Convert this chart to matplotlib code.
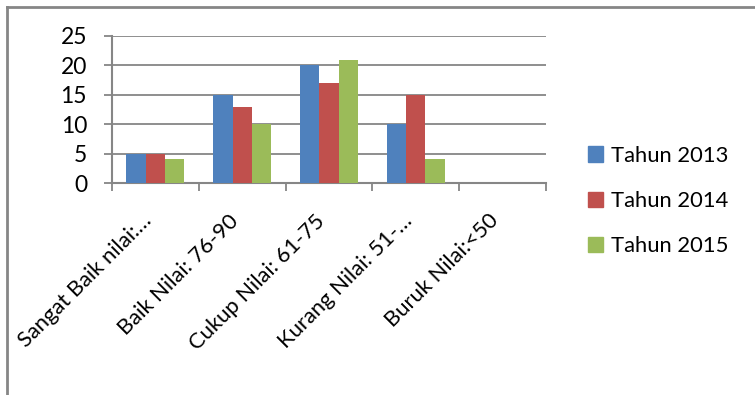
import matplotlib
matplotlib.use("Agg")
import matplotlib.pyplot as plt
from matplotlib.lines import Line2D
from matplotlib.patches import Rectangle
import numpy as np

plt.rcParams['font.family'] = ['Lato', 'DejaVu Sans']

categories = ["Sangat Baik nilai:…", "Baik Nilai: 76-90", "Cukup Nilai: 61-75",
              "Kurang Nilai: 51-…", "Buruk Nilai:<50"]
series_names = ["Tahun 2013", "Tahun 2014", "Tahun 2015"]
tahun_2013 = [5, 15, 20, 10, 0]
tahun_2014 = [5, 13, 17, 15, 0]
tahun_2015 = [4, 10, 21, 4, 0]
colors = ["#4F81BD", "#C0504D", "#9BBB59"]
y_ticks = [0, 5, 10, 15, 20, 25]

FS = 16.5
fig = plt.figure(figsize=(7.55, 3.95), dpi=100)
ax = fig.add_axes([112 / 755, 1 - 183 / 395, (546 - 112) / 755, (183 - 36) / 395])

x = np.arange(len(categories))
bw = 1 / 4.5
for i, (vals, c) in enumerate(zip([tahun_2013, tahun_2014, tahun_2015], colors)):
    ax.bar(x + (i - 1) * bw, vals, width=bw, color=c, edgecolor='none', zorder=3)

ax.set_xlim(-0.5, len(categories) - 0.5)
ax.set_ylim(0, 25)
ax.set_yticks(y_ticks)
ax.set_yticklabels([str(v) for v in y_ticks], fontsize=FS)
ax.yaxis.grid(True, color='#868686', linewidth=1.3, zorder=0)
ax.set_axisbelow(True)
for s in ['top', 'right']:
    ax.spines[s].set_visible(False)
for s in ['left', 'bottom']:
    ax.spines[s].set_color('#868686')
    ax.spines[s].set_linewidth(1.5)
ax.tick_params(axis='y', length=6, width=1.3, color='#868686', pad=12)

# category boundary ticks
ax.set_xticks(np.arange(len(categories) + 1) - 0.5)
ax.set_xticklabels([])
ax.tick_params(axis='x', length=6, width=1.3, color='#868686')
for xi, lab in zip(x, categories):
    ax.annotate(lab, xy=(xi, 0), xycoords=('data', 'axes fraction'),
                xytext=(-5, -25), textcoords='offset points',
                rotation=45, rotation_mode='anchor', ha='right', va='center',
                fontsize=15.8)

# legend
handles = [Rectangle((0, 0), 1, 1, color=c) for c in colors]
fig.legend(handles, series_names, loc='center left', bbox_to_anchor=(568 / 755, 1 - 201 / 395),
           frameon=False, fontsize=15.8, handlelength=0.7, handleheight=0.7,
           handletextpad=0.35, labelspacing=1.15)

# outer frame (top and left edges)
fig.add_artist(Line2D([6.5 / 755, 1], [1 - 6.5 / 395] * 2, transform=fig.transFigure,
                      color='#868686', linewidth=2))
fig.add_artist(Line2D([6.5 / 755] * 2, [0, 1 - 6.5 / 395], transform=fig.transFigure,
                      color='#868686', linewidth=2))

fig.savefig("out.png", dpi=100)
